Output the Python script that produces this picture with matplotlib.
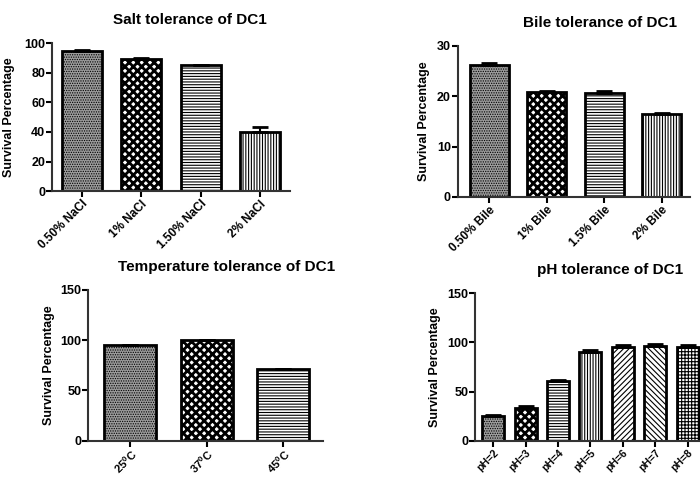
import matplotlib
matplotlib.use("Agg")
import matplotlib.pyplot as plt

plt.rcParams['font.family'] = ['Liberation Sans', 'DejaVu Sans']
plt.rcParams['font.weight'] = 'bold'
plt.rcParams['mathtext.fontset'] = 'custom'
plt.rcParams['mathtext.rm'] = 'Liberation Sans:bold'
plt.rcParams['mathtext.bf'] = 'Liberation Sans:bold'
plt.rcParams['mathtext.default'] = 'rm'
plt.rcParams['hatch.color'] = 'black'

# Data
salt_labels = ['0.50% NaCl', '1% NaCl', '1.50% NaCl', '2% NaCl']
salt_values = [95, 89.5, 85, 40]
salt_err = [0.5, 0.5, 0.3, 3.2]

bile_labels = ['0.50% Bile', '1% Bile', '1.5% Bile', '2% Bile']
bile_values = [26.3, 20.9, 20.6, 16.5]
bile_err = [0.3, 0.2, 0.4, 0.2]

temp_labels = ['25$^{0}$C', '37$^{0}$C', '45$^{0}$C']
temp_values = [95, 100, 71]
temp_err = [0.5, 0.5, 0.5]

ph_labels = ['pH=2', 'pH=3', 'pH=4', 'pH=5', 'pH=6', 'pH=7', 'pH=8']
ph_values = [25.5, 33.5, 61, 90.5, 95.5, 96, 95]
ph_err = [0.8, 2.0, 0.5, 1.5, 1.5, 1.8, 2.5]

# pattern styles: (facecolor, hatch, hatch linewidth)
styles = [
    ('#9c9c9c', '.......', 0.6),
    ('white', 'xxxx', 2.0),
    ('white', '------', 0.8),
    ('white', '||||||', 0.8),
    ('white', '//////', 0.8),
    ('white', '\\\\\\\\\\\\', 0.8),
    ('white', '+++++', 0.8),
]

fig = plt.figure(figsize=(7.0, 4.79), dpi=100)

panels = [
    # rect, labels, values, errs, ylim, yticks, xlim, title, title_x, ylabel_px, xtick size
    ([0.0743, 0.601, 0.340, 0.309], salt_labels, salt_values, salt_err,
     (0, 100), [0, 20, 40, 60, 80, 100], (-0.5, 3.5), 'Salt tolerance of DC1', 0.58, 37, 8.5),
    ([0.654, 0.589, 0.332, 0.315], bile_labels, bile_values, bile_err,
     (0, 30), [0, 10, 20, 30], (-0.55, 3.5), 'Bile tolerance of DC1', 0.61, 28, 8.5),
    ([0.126, 0.080, 0.335, 0.315], temp_labels, temp_values, temp_err,
     (0, 150), [0, 50, 100, 150], (-0.55, 2.52), 'Temperature tolerance of DC1', 0.59, 33, 8),
    ([0.679, 0.080, 0.321, 0.308], ph_labels, ph_values, ph_err,
     (0, 150), [0, 50, 100, 150], (-0.55, 6.38), 'pH tolerance of DC1', 0.60, 34, 7.5),
]

for rect, labels, values, errs, ylim, yticks, xlim, title, tx, ylpx, xfs in panels:
    ax = fig.add_axes(rect)
    x = list(range(len(values)))
    for i, (xi, v, e) in enumerate(zip(x, values, errs)):
        fc, hatch, hlw = styles[i]
        with plt.rc_context({'hatch.linewidth': hlw}):
            ax.bar(xi, v, width=0.68, color=fc, edgecolor='black',
                   hatch=hatch, linewidth=2.0, zorder=2)
        ax.errorbar(xi, v, yerr=[[0], [e]], fmt='none', ecolor='black',
                    elinewidth=1.5, capsize=6, capthick=2.0, zorder=3)
    ax.set_xlim(*xlim)
    ax.set_ylim(*ylim)
    ax.set_yticks(yticks)
    ax.set_xticks(x)
    ax.set_xticklabels(labels, rotation=45, ha='right', rotation_mode='anchor',
                       fontsize=xfs, fontweight='bold')
    ax.tick_params(axis='y', labelsize=9, width=1.5, length=4, direction='out', pad=1)
    ax.tick_params(axis='x', width=1.5, length=4, direction='out', pad=1)
    for lbl in ax.get_yticklabels():
        lbl.set_fontweight('bold')
    for s in ['top', 'right']:
        ax.spines[s].set_visible(False)
    for s in ['left', 'bottom']:
        ax.spines[s].set_linewidth(1.5)
        ax.spines[s].set_color('#333333')
    ax.set_ylabel('Survival Percentage', fontsize=9, fontweight='bold')
    bbox_w = rect[2] * 700
    ax.yaxis.set_label_coords(-ylpx / bbox_w, 0.5)
    ax.text(tx, 1.0 + 23 / (rect[3] * 479), title, transform=ax.transAxes,
            ha='center', va='center', fontsize=11, fontweight='bold')

fig.savefig('out.png', dpi=100)
